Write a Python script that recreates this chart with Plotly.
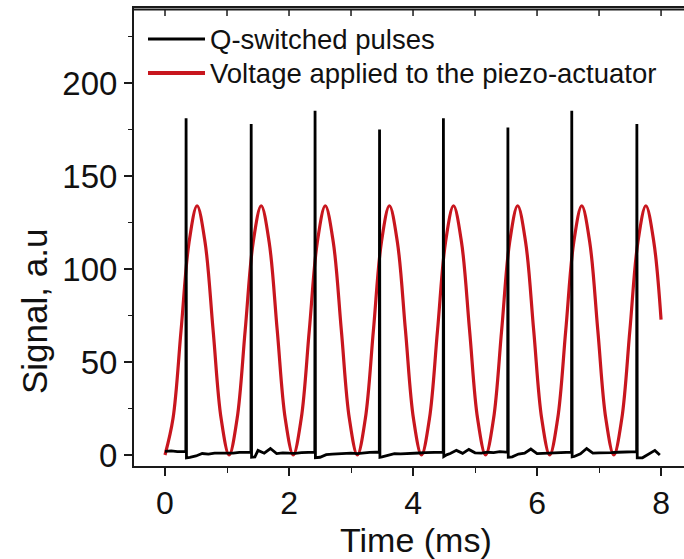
import plotly.graph_objects as go

# ---------------- data ----------------
series_names = ["Q-switched pulses", "Voltage applied to the piezo-actuator"]

# Q-switched pulses: times (ms) and peak heights (a.u.)
pulse_t = [0.34, 1.39, 2.42, 3.46, 4.49, 5.53, 6.56, 7.61]
pulse_h = [181, 178, 185, 175, 181, 176, 185, 178]
pulse_foot_before = [2.0, 1.5, 1.6, 1.5, 1.6, 1.6, 1.6, 1.8]
pulse_foot_after = [-1.5, -1.2, -1.4, -1.2, -0.8, -1.2, -1.0, -1.5]

# baseline of the pulse signal (ms, a.u.)
base_t = [0.0, 0.1, 0.2, 0.3, 0.4, 0.5, 0.6, 0.7, 0.8, 0.9,
          1.0, 1.1, 1.2, 1.3, 1.45, 1.5, 1.6, 1.7, 1.8, 1.9,
          2.0, 2.1, 2.2, 2.3, 2.4, 2.5, 2.6, 2.7, 2.8, 2.9,
          3.0, 3.1, 3.2, 3.3, 3.4, 3.5, 3.6, 3.7, 3.8, 3.9,
          4.0, 4.1, 4.2, 4.3, 4.4, 4.55, 4.6, 4.7, 4.8, 4.9,
          5.0, 5.1, 5.2, 5.3, 5.4, 5.5, 5.6, 5.7, 5.8, 5.9,
          6.0, 6.1, 6.2, 6.3, 6.4, 6.5, 6.6, 6.7, 6.8, 6.9,
          7.0, 7.1, 7.2, 7.3, 7.4, 7.5, 7.58, 7.7, 7.8, 7.9, 7.98]
base_v = [2.0, 2.2, 1.8, 2.1, -1.2, -0.5, 0.8, 0.5, 1.0, 0.9,
          1.2, 1.0, 1.4, 1.5, -1.0, 2.5, 1.0, 3.5, 0.8, 1.2,
          1.0, 0.9, 1.3, 1.5, 1.6, -1.2, 0.2, 0.5, 0.7, 0.8,
          1.0, 0.8, 1.2, 1.4, 1.5, -1.0, 0.0, 0.8, 0.6, 0.9,
          1.0, 1.1, 1.3, 1.5, 1.6, 0.2, 0.8, 2.5, 0.9, 3.0,
          1.2, 1.0, 1.5, 1.3, 1.8, 1.6, -1.0, 0.5, 1.0, 3.2,
          0.8, 1.0, 1.2, 1.4, 1.5, 1.6, -0.8, 0.7, 3.5, 1.0,
          1.2, 1.1, 1.3, 1.5, 1.5, 1.7, 1.8, -1.5, 0.5, 2.5, 0.0]

# Voltage applied to the piezo-actuator (ms, a.u.)
volt_t = [0.000, 0.129, 0.259, 0.388, 0.517, 0.646, 0.776, 0.905,
          1.034, 1.163, 1.293, 1.422, 1.551, 1.680, 1.810, 1.939,
          2.068, 2.197, 2.327, 2.456, 2.585, 2.714, 2.844, 2.973,
          3.102, 3.231, 3.361, 3.490, 3.619, 3.748, 3.878, 4.007,
          4.136, 4.265, 4.395, 4.524, 4.653, 4.782, 4.912, 5.041,
          5.170, 5.299, 5.429, 5.558, 5.687, 5.816, 5.946, 6.075,
          6.204, 6.333, 6.463, 6.592, 6.721, 6.850, 6.980, 7.109,
          7.238, 7.367, 7.497, 7.626, 7.755, 7.884, 8.000]
volt_v = [0.0, 19.6, 67.0, 114.4, 134.0, 114.4, 67.0, 19.6,
          0.0, 19.6, 67.0, 114.4, 134.0, 114.4, 67.0, 19.6,
          0.0, 19.6, 67.0, 114.4, 134.0, 114.4, 67.0, 19.6,
          0.0, 19.6, 67.0, 114.4, 134.0, 114.4, 67.0, 19.6,
          0.0, 19.6, 67.0, 114.4, 134.0, 114.4, 67.0, 19.6,
          0.0, 19.6, 67.0, 114.4, 134.0, 114.4, 67.0, 19.6,
          0.0, 19.6, 67.0, 114.4, 134.0, 114.4, 67.0, 19.6,
          0.0, 19.6, 67.0, 114.4, 134.0, 114.4, 72.8]

x_ticks = [0, 2, 4, 6, 8]
top_ticks = [0, 1, 2, 3, 4, 5, 6, 7, 8]
y_ticks = [0, 50, 100, 150, 200]
x_title = "Time (ms)"
y_title = "Signal, a.u"

# ---------------- build the pulse trace ----------------
pts = list(zip(base_t, base_v))
for t, h, fb, fa in zip(pulse_t, pulse_h, pulse_foot_before, pulse_foot_after):
    pts += [(t - 0.004, fb), (t, h), (t + 0.006, fa)]
pts.sort(key=lambda p: p[0])
black_x = [p[0] for p in pts]
black_y = [p[1] for p in pts]

# ---------------- figure ----------------
W, H = 684, 559
L, T, Bpx = 134, 8, 466          # plot area pixel edges
Rpx = 684
FONT = "Liberation Sans, Arial, sans-serif"
RED = "#C8161E"
AX = "#1a1a1a"

xr = [-0.5, 8.37]
yr = [-5.9, 240.3]

fig = go.Figure()
fig.add_trace(go.Scatter(x=volt_t, y=volt_v, mode="lines", name=series_names[1],
                         line=dict(color=RED, width=3.2, shape="spline", smoothing=1.0),
                         showlegend=False))
fig.add_trace(go.Scatter(x=black_x, y=black_y, mode="lines", name=series_names[0],
                         line=dict(color="#000000", width=2.8), showlegend=False))

fig.update_layout(
    template="none",
    width=W, height=H,
    margin=dict(l=L, r=W - Rpx, t=T, b=H - Bpx, pad=0, autoexpand=False),
    paper_bgcolor="white", plot_bgcolor="white",
    font=dict(family=FONT, color="#111111"),
    xaxis=dict(range=xr, showgrid=False, zeroline=False, showline=True, mirror=True,
               automargin=False, linecolor=AX, linewidth=2,
               ticks="outside", ticklen=8, tickwidth=1.6, tickcolor=AX,
               tickvals=x_ticks, ticktext=[str(v) for v in x_ticks],
               tickfont=dict(size=32, family=FONT),
               minor=dict(dtick=1, tick0=0, ticks="outside", ticklen=5, tickwidth=1.4, tickcolor=AX)),
    yaxis=dict(range=yr, showgrid=False, zeroline=False, showline=True, automargin=False,
               linecolor=AX, linewidth=2,
               ticks="outside", ticklen=8, tickwidth=1.6, tickcolor=AX,
               tickvals=y_ticks, ticktext=[str(v) for v in y_ticks],
               tickfont=dict(size=33, family=FONT),
               minor=dict(dtick=25, tick0=0, ticks="outside", ticklen=4, tickwidth=1.4, tickcolor=AX)),
)

pw, ph = Rpx - L, Bpx - T
def px(xp):
    return (xp - L) / pw
def py(yp):
    return (Bpx - yp) / ph

# top frame line (slightly inside the plot area) and inward ticks along it
fig.add_shape(type="line", xref="paper", yref="paper", x0=0, x1=1,
              y0=py(9.5), y1=py(9.5), line=dict(color=AX, width=2.2), layer="above")
for tv in top_ticks:
    fig.add_shape(type="line", xref="x", yref="paper", x0=tv, x1=tv,
                  y0=py(9), y1=py(16), line=dict(color=AX, width=1.5), layer="above")

# manual legend (long line samples as in the original)
leg = [(39, "#000000", 2.8, series_names[0]), (73, RED, 3.8, series_names[1])]
for yy, col, lw, txt in leg:
    fig.add_shape(type="line", xref="paper", yref="paper", x0=px(148), x1=px(205),
                  y0=py(yy), y1=py(yy), line=dict(color=col, width=lw))
    fig.add_annotation(xref="paper", yref="paper", x=px(208), y=py(yy), text=txt,
                       showarrow=False, xanchor="left", yanchor="middle",
                       font=dict(size=27.5, family=FONT, color="#111111"))

# axis titles
fig.add_annotation(xref="paper", yref="paper", x=px(416), y=py(540), text=x_title,
                   showarrow=False, xanchor="center", yanchor="middle",
                   font=dict(size=34, family=FONT, color="#111111"))
fig.add_annotation(xref="paper", yref="paper", x=px(34), y=py(312), text=y_title,
                   textangle=-90, showarrow=False, xanchor="center", yanchor="middle",
                   font=dict(size=35, family=FONT, color="#111111"))

fig.write_html("out.html")
